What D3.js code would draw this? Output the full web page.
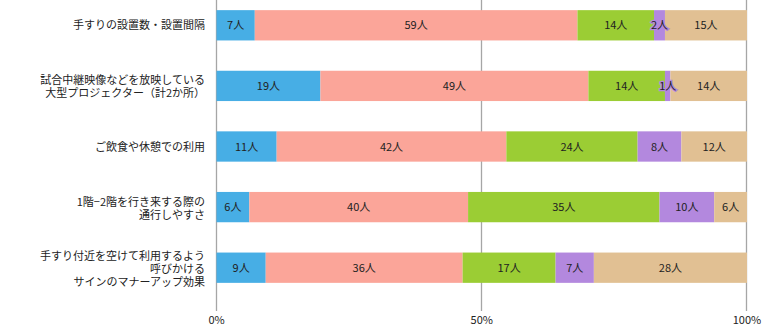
<!DOCTYPE html>
<html>
<head>
<meta charset="utf-8">
<script src="https://cdn.jsdelivr.net/npm/d3@7"></script>
<style>
  body { margin: 0; background: #fff; }
  text { font-family: "Noto Sans CJK JP", "Noto Sans", sans-serif; }
</style>
</head>
<body>
<div id="chart"></div>
<script>
// items asked about, each label split over lines
const categories = [
  ['手すりの設置数・設置間隔'],
  ['試合中継映像などを放映している', '大型プロジェクター（計2か所）'],
  ['ご飲食や休憩での利用'],
  ['1階−2階を行き来する際の', '通行しやすさ'],
  ['手すり付近を空けて利用するよう', '呼びかける', 'サインのマナーアップ効果']
]

// answers per item, in stack order
const s1 = [7, 19, 11, 6, 9]
const s2 = [59, 49, 42, 40, 36]
const s3 = [14, 14, 24, 35, 17]
const s4 = [2, 1, 8, 10, 7]
const s5 = [15, 14, 12, 6, 28]
const series = [s1, s2, s3, s4, s5]
const colors = ['#47aee5', '#fba599', '#9bcd34', '#b388de', '#e1c093']

const tickValues = [0, 0.5, 1]

const width = 769, height = 326

const svg = d3.select('#chart')
    .append('svg')
    .attr('width', width)
    .attr('height', height)

const x = d3.scaleLinear().domain([0, 1]).range([216.5, 747])
const y = d3.scaleBand()
    .domain(d3.range(categories.length))
    .range([-5, 298])
    .paddingInner(0.5)
    .paddingOuter(0.25)

// grid lines at 0 / 50 / 100 %
svg.append('g')
    .selectAll('line')
    .data(tickValues)
    .join('line')
    .attr('x1', d => Math.round(x(d)) - 0.5)
    .attr('x2', d => Math.round(x(d)) - 0.5)
    .attr('y1', 0)
    .attr('y2', 311)
    .attr('stroke', '#a6a6a6')
    .attr('stroke-width', 1.3)

svg.append('g')
    .selectAll('text')
    .data(tickValues)
    .join('text')
    .attr('x', d => x(d))
    .attr('y', 323.5)
    .attr('text-anchor', 'middle')
    .attr('font-size', 11)
    .attr('fill', '#222')
    .text(d3.format('.0%'))

// stack each row into proportions
const rows = categories.map((c, i) => {
    const vals = series.map(s => s[i])
    const total = d3.sum(vals)
    let acc = 0
    return vals.map((v, k) => {
        const seg = { row: i, k: k, v: v, x0: acc / total, x1: (acc + v) / total }
        acc += v
        return seg
    })
})
const segs = rows.flat()

svg.append('g')
    .selectAll('rect')
    .data(segs)
    .join('rect')
    .attr('x', d => x(d.x0))
    .attr('width', d => x(d.x1) - x(d.x0))
    .attr('y', d => y(d.row))
    .attr('height', y.bandwidth())
    .attr('fill', d => colors[d.k])

svg.append('g')
    .selectAll('text')
    .data(segs)
    .join('text')
    .attr('x', d => (x(d.x0) + x(d.x1)) / 2)
    .attr('y', d => y(d.row) + y.bandwidth() / 2 + 4)
    .attr('text-anchor', 'middle')
    .attr('font-size', 11)
    .attr('fill', '#222')
    .attr('stroke', d => colors[d.k])
    .attr('stroke-width', d => d.v < 3 ? 2.5 : 0)
    .attr('paint-order', 'stroke')
    .text(d => d.v + '人')

// category labels, right aligned
const lineGap = 13
const lab = svg.append('g')
    .selectAll('text')
    .data(categories)
    .join('text')
    .attr('text-anchor', 'end')
    .attr('font-size', 11)
    .attr('fill', '#222')
    .attr('y', (d, i) => y(i) + y.bandwidth() / 2 + 4 - (d.length - 1) * lineGap / 2 + (d.length > 1 ? 1 : 0))

lab.selectAll('tspan')
    .data(d => d)
    .join('tspan')
    .attr('x', 205)
    .attr('dy', (d, j) => j === 0 ? 0 : lineGap)
    .text(d => d)
</script>
</body>
</html>
